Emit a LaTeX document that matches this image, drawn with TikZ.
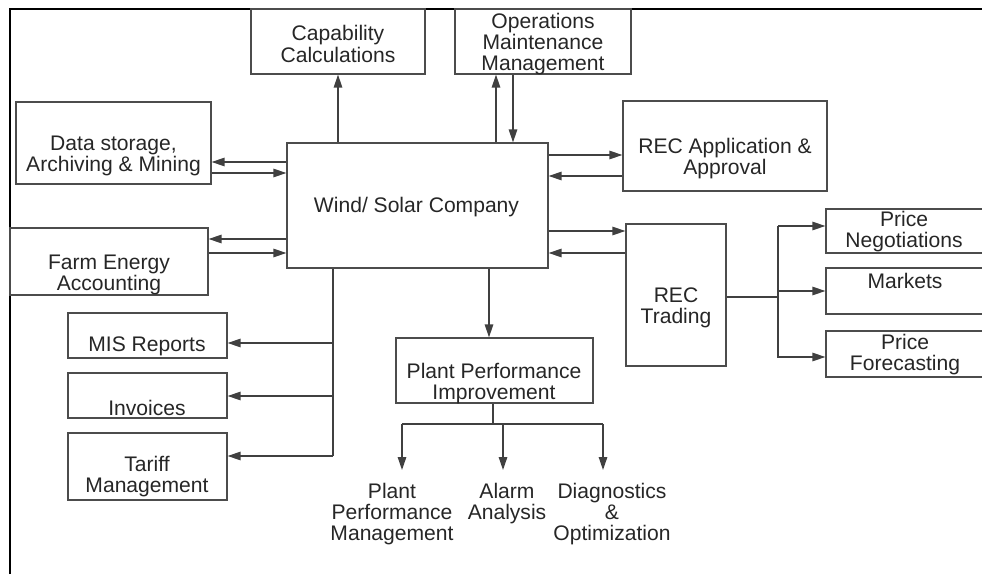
\documentclass[tikz,border=0pt]{standalone}
\usepackage{fontspec}
\setmainfont{Liberation Sans}
\usetikzlibrary{arrows.meta}

\begin{document}
\begin{tikzpicture}[
  x=0.02cm, y=-0.02cm,
  box/.style 2 args={
    draw=black!70, line width=0.7pt,
    minimum width=#1*0.02cm, minimum height=#2*0.02cm,
    inner sep=0pt,
  },
  txt/.style={
    font=\fontsize{12}{12}\selectfont, align=center,
    text=black!85, inner sep=0pt, yshift=-0.04cm,
  },
  leaf/.style={txt, anchor=north, outer sep=0.26cm, yshift=0cm},
  link/.style={draw=black!75, line width=0.8pt},
  arr/.style={link, -{Triangle[length=0.26cm, width=0.17cm]}},
]

% page is 982 x 574 px, one px = 0.02cm, y runs downwards
\clip (0,0) rectangle (982,574);

% outer frame (left and top only)
\draw[line width=1.2pt] (10,574) -- (10,9) -- (982,9);

% centre
\node[box={261}{125}] (wsc) at (417.5,205.5) {};
\node[txt] (wsc-t) at (416.5,205) {Wind/ Solar Company};

% top row
\node[box={174}{65}] (cap) at (338,41.5) {};
\node[txt] (cap-t) at (338,42) {Capability\\Calculations};
\node[box={176}{65}] (ops) at (543,41.5) {};
\node[txt] (ops-t) at (543,42) {Operations\\Maintenance\\Management};

% left side
\node[box={195}{82}] (store) at (113.5,143) {};
\node[txt] (store-t) at (113.5,154) {Data storage,\\Archiving \& Mining};
\node[box={198}{67}] (farm) at (109,261.5) {};
\node[txt] (farm-t) at (109,273) {Farm Energy\\Accounting};

\node[box={159}{45}] (mis) at (147.5,335.5) {};
\node[txt] (mis-t) at (147,344) {MIS Reports};
\node[box={159}{45}] (inv) at (147.5,395.5) {};
\node[txt] (inv-t) at (147,406) {Invoices};
\node[box={159}{67}] (tariff) at (147.5,466.5) {};
\node[txt] (tariff-t) at (147,475) {Tariff\\Management};

% right side
\node[box={204}{90}] (rapp) at (725,146) {};
\node[txt] (rapp-t) at (725,157) {REC Application \&\\Approval};
\node[box={100}{142}] (trade) at (676,295) {};
\node[txt] (trade-t) at (676,306) {REC\\Trading};

\node[box={160}{44}] (pneg) at (906,231) {};
\node[txt] (pneg-t) at (904,230) {Price\\Negotiations};
\node[box={160}{46}] (markets) at (906,291) {};
\node[txt] (markets-t) at (905,279) {Markets};
\node[box={160}{46}] (pfore) at (906,354) {};
\node[txt] (pfore-t) at (905,352.5) {Price\\Forecasting};

% plant performance and its three outcomes
\node[box={197}{65}] (ppi) at (494.5,370.5) {};
\node[txt] (ppi-t) at (494,381.5) {Plant Performance\\Improvement};
\node[leaf] (ppm) at (392,468) {Plant\\Performance\\Management};
\node[leaf] (alarm) at (507,468) {Alarm\\Analysis};
\node[leaf] (diag) at (612,468) {Diagnostics\\\&\\Optimization};

% links from the company box
\draw[arr] (wsc.north -| cap) -- (cap.south);
\draw[arr] (wsc.north -| 496,0) -- (ops.south -| 496,0);
\draw[arr] (ops.south -| 513,0) -- (wsc.north -| 513,0);

\draw[arr] (wsc.west |- 0,162) -- (store.east |- 0,162);
\draw[arr] (store.east |- 0,173) -- (wsc.west |- 0,173);
\draw[arr] (wsc.west |- 0,239) -- (farm.east |- 0,239);
\draw[arr] (farm.east |- 0,253) -- (wsc.west |- 0,253);

\draw[arr] (wsc.east |- 0,155) -- (rapp.west |- 0,155);
\draw[arr] (rapp.west |- 0,176) -- (wsc.east |- 0,176);
\draw[arr] (wsc.east |- 0,231) -- (trade.west |- 0,231);
\draw[arr] (trade.west |- 0,253) -- (wsc.east |- 0,253);

\draw[arr] (wsc.south -| 489,0) -- (ppi.north -| 489,0);

% reports tree
\coordinate (lbus) at (333,456);
\draw[link] (wsc.south -| lbus) -- (lbus);
\draw[arr] (lbus |- 0,343) -- (mis.east |- 0,343);
\draw[arr] (lbus |- 0,396) -- (inv.east |- 0,396);
\draw[arr] (lbus) -- (tariff.east |- lbus);

% plant performance tree
\coordinate (pl) at (402,424);
\coordinate (pm) at (503,424);
\coordinate (pr) at (603,424);
\draw[link] (ppi.south -| 493,0) -- (493,424);
\draw[link] (pl) -- (pr);
\draw[arr] (pl) -- (ppm.north -| pl);
\draw[arr] (pm) -- (alarm.north -| pm);
\draw[arr] (pr) -- (diag.north -| pr);

% trading tree
\coordinate (tt) at (778,226);
\coordinate (tm) at (778,291);
\coordinate (tb) at (778,358);
\draw[link] (trade.east |- 0,297) -- (tm |- 0,297);
\draw[link] (tt) -- (tb);
\draw[arr] (tt) -- (pneg.west |- tt);
\draw[arr] (tm) -- (markets.west |- tm);
\draw[arr] (tb |- 0,357) -- (pfore.west |- 0,357);

\end{tikzpicture}
\end{document}
